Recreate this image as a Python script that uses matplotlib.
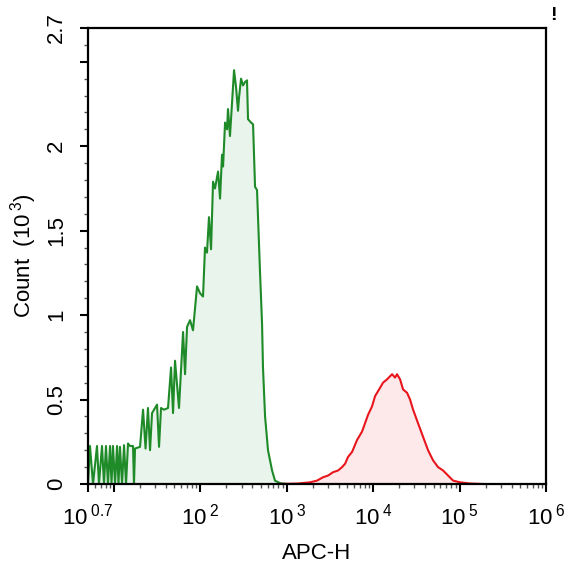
import matplotlib
matplotlib.use("Agg")
import matplotlib.pyplot as plt
from matplotlib.ticker import FixedLocator, NullFormatter
import numpy as np

plt.rcParams['font.family'] = ['Liberation Sans', 'DejaVu Sans']
plt.rcParams['mathtext.fontset'] = 'custom'
plt.rcParams['mathtext.rm'] = 'Liberation Sans'
plt.rcParams['mathtext.it'] = 'Liberation Sans:italic'

# APC-H as log10 exponent, counts in thousands
green_log = [0.700, 0.723, 0.758, 0.804, 0.827, 0.862, 0.885, 0.908, 0.931, 0.955,
             0.972, 0.989, 1.013, 1.036, 1.053, 1.070, 1.094, 1.117, 1.140, 1.163,
             1.186, 1.221, 1.232, 1.244, 1.302, 1.337, 1.366, 1.394, 1.418, 1.441,
             1.499, 1.522, 1.545, 1.580, 1.626, 1.661, 1.684, 1.707, 1.753, 1.800,
             1.823, 1.846, 1.881, 1.915, 1.962, 1.996, 2.031, 2.054, 2.077, 2.100,
             2.124, 2.147, 2.170, 2.205, 2.228, 2.251, 2.263, 2.286, 2.309, 2.320,
             2.343, 2.367, 2.390, 2.413, 2.436, 2.448, 2.471, 2.494, 2.517, 2.540,
             2.552, 2.587, 2.610, 2.633, 2.656, 2.691, 2.714, 2.725, 2.749, 2.783,
             2.830, 2.864, 2.922, 3.003]
green_cnt = [0.00, 0.225, 0.00, 0.225, 0.00, 0.225, 0.00, 0.225, 0.00, 0.225,
             0.00, 0.225, 0.00, 0.225, 0.00, 0.22, 0.00, 0.23, 0.00, 0.24,
             0.225, 0.225, 0.00, 0.21, 0.22, 0.44, 0.21, 0.45, 0.20, 0.42,
             0.47, 0.22, 0.45, 0.44, 0.45, 0.69, 0.42, 0.73, 0.45, 0.90,
             0.65, 0.93, 0.97, 0.91, 1.17, 1.13, 1.11, 1.40, 1.37, 1.58,
             1.39, 1.79, 1.75, 1.85, 1.69, 1.95, 1.88, 2.14, 2.10, 2.22,
             2.06, 2.26, 2.45, 2.35, 2.21, 2.29, 2.40, 2.36, 2.38, 2.39,
             2.16, 2.14, 2.13, 1.76, 1.74, 1.25, 0.95, 0.69, 0.40, 0.20,
             0.08, 0.02, 0.005, 0.00]

red_log = [2.888, 3.131, 3.269, 3.350, 3.420, 3.478, 3.536, 3.594, 3.640, 3.675,
           3.709, 3.756, 3.813, 3.871, 3.906, 3.941, 3.987, 4.022, 4.080, 4.114,
           4.161, 4.219, 4.253, 4.276, 4.311, 4.346, 4.392, 4.427, 4.462, 4.519,
           4.577, 4.635, 4.693, 4.751, 4.809, 4.867, 4.925, 5.006, 5.121, 5.272]
red_cnt = [0.00, 0.003, 0.01, 0.02, 0.04, 0.05, 0.07, 0.08, 0.10, 0.12,
           0.16, 0.19, 0.26, 0.31, 0.36, 0.41, 0.46, 0.52, 0.57, 0.60,
           0.62, 0.65, 0.63, 0.65, 0.62, 0.56, 0.54, 0.50, 0.44, 0.36,
           0.28, 0.20, 0.14, 0.10, 0.08, 0.05, 0.02, 0.01, 0.003, 0.00]

x_major = [0.7, 1, 2, 3, 4, 5, 6]
x_labels = ['0.7', '', '2', '3', '4', '5', '6']
y_major = [0, 0.5, 1, 1.5, 2, 2.5, 2.7]
y_labels = ['0', '0.5', '1', '1.5', '2', '', '2.7']

green_x = 10 ** np.array(green_log)
red_x = 10 ** np.array(red_log)

fig = plt.figure(figsize=(5.68, 5.72), dpi=100)
ax = fig.add_axes([88/568, 1-484/572, 458/568, 456/572])

ax.fill_between(green_x, green_cnt, 0, color='#e9f4ec', lw=0)
ax.plot(green_x, green_cnt, color='#1e8a28', lw=1.5)
ax.fill_between(red_x, red_cnt, 0, color='#fde9ea', lw=0)
ax.plot(red_x, red_cnt, color='#e8161c', lw=1.5)

ax.set_xscale('log')
ax.set_xlim(10 ** 0.7, 1e6)
ax.set_ylim(0, 2.7)

ax.xaxis.set_major_locator(FixedLocator([10 ** v for v in x_major]))
ax.set_xticklabels([r'$\mathregular{10^{\;%s}}$' % l if l else '' for l in x_labels])
minors = [m * 10 ** d for d in range(0, 6) for m in range(2, 10)]
minors = [v for v in minors if 10 ** 0.7 < v < 1e6]
ax.xaxis.set_minor_locator(FixedLocator(minors))
ax.xaxis.set_minor_formatter(NullFormatter())

ax.yaxis.set_major_locator(FixedLocator(y_major))
ax.set_yticklabels(y_labels, rotation=90, va='center')
ax.yaxis.set_minor_locator(FixedLocator([i / 10 for i in range(27) if i % 5 != 0]))

ax.tick_params(which='major', length=6, width=1.5, labelsize=16, color='black')
ax.tick_params(which='minor', length=3, width=1.0, color='#555555')
ax.tick_params(axis='x', which='major', pad=8)
ax.tick_params(axis='y', which='major', pad=9)

for s in ax.spines.values():
    s.set_linewidth(1.6)

ax.set_xlabel('APC-H', fontsize=16, labelpad=10)
ax.set_ylabel(r'Count  (10$^{\;3}$)', fontsize=16, labelpad=5)

fig.text(553/568, 1-15/572, '!', fontsize=14, fontweight='bold', ha='center', va='center')

fig.savefig('out.png', dpi=100)
